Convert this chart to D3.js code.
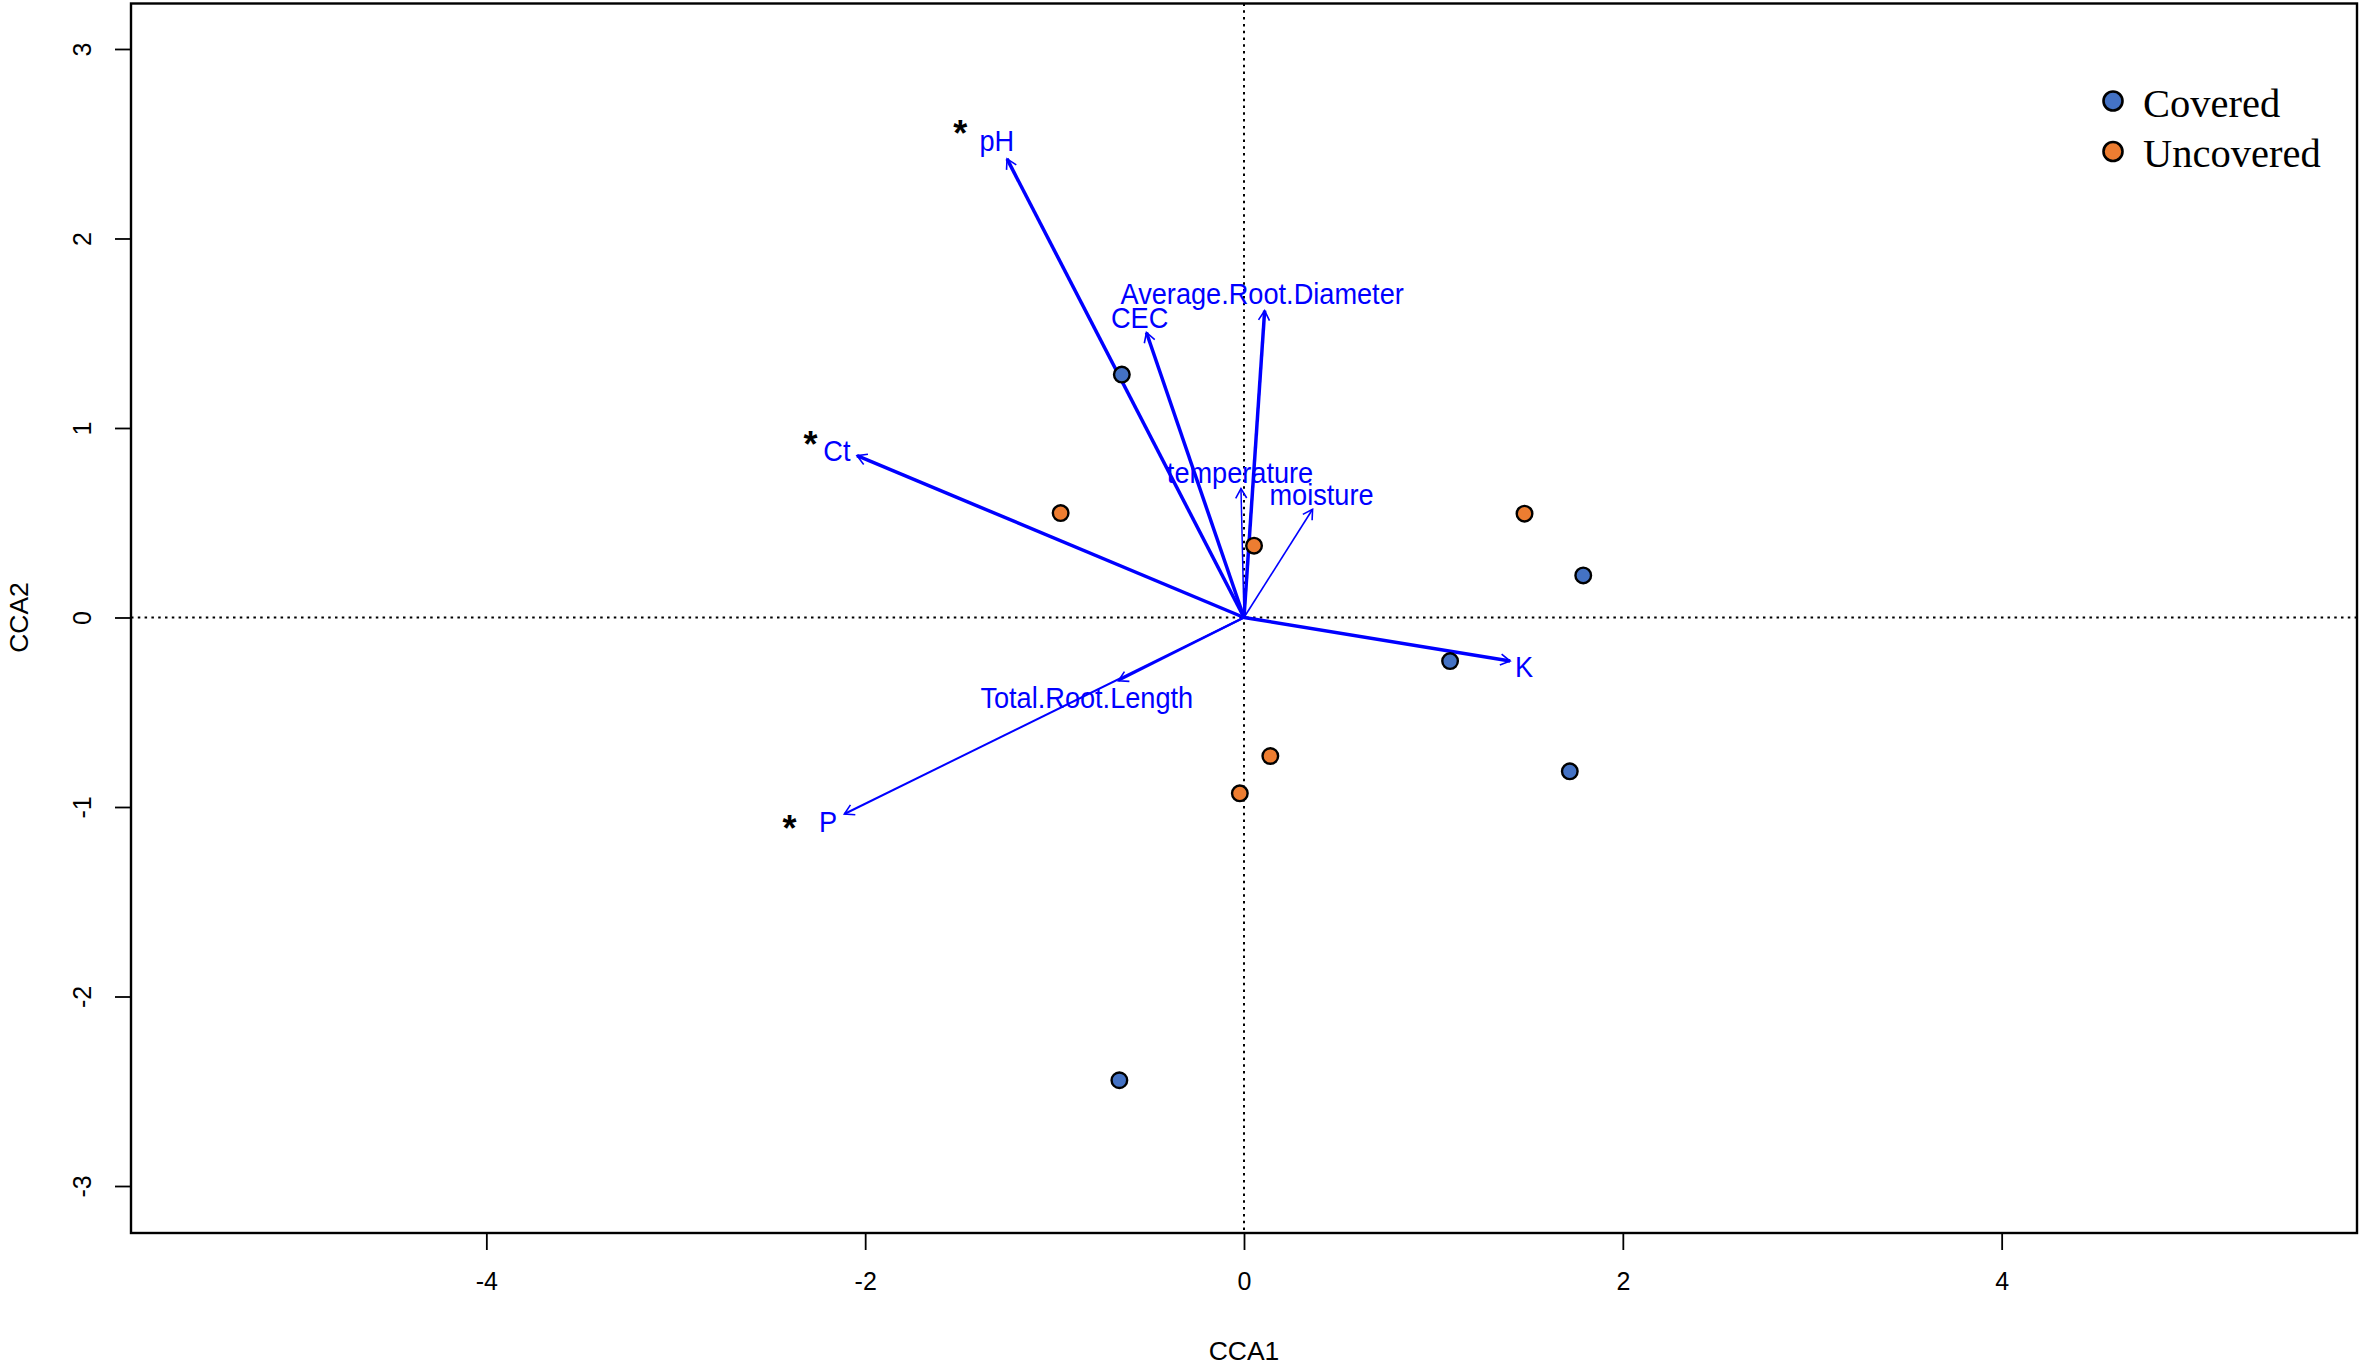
<!DOCTYPE html>
<html>
<head>
<meta charset="utf-8">
<script src="https://cdn.jsdelivr.net/npm/d3@7"></script>
<style>
html,body{margin:0;padding:0;background:#fff;}
svg{display:block;}
</style>
</head>
<body>
<svg id="chart" width="2362" height="1365"></svg>
<script>
// ---------- data ----------
const siteGroups = ["Covered","Covered","Covered","Covered","Covered",
                    "Uncovered","Uncovered","Uncovered","Uncovered","Uncovered"];
const siteCCA1 = [-0.645, 1.791, 1.088, 1.720, -0.658, -0.968, 0.053, 1.481, 0.139, -0.022];
const siteCCA2 = [ 1.282, 0.222, -0.230, -0.812, -2.442, 0.551, 0.379, 0.548, -0.731, -0.928];

const envNames = ["pH","Average.Root.Diameter","CEC","Ct","temperature","moisture","K","Total.Root.Length","P"];
const envCCA1  = [-1.251, 0.109, -0.515, -2.043, -0.016, 0.362, 1.405, -0.663, -2.110];
const envCCA2  = [ 2.420, 1.619,  1.504,  0.854,  0.680, 0.571, -0.230, -0.334, -1.037];
const envLabelCCA1 = [-1.305, 0.096, -0.551, -2.149, -0.021, 0.409, 1.478, -0.830, -2.196];
const envLabelCCA2 = [ 2.515, 1.709,  1.581,  0.882,  0.767, 0.649, -0.256, -0.421, -1.078];

const signifNames = ["pH","Ct","P"];
const signifCCA1 = [-1.498, -2.288, -2.400];
const signifCCA2 = [ 2.575,  0.935, -1.096];

const xTicks = [-4,-2,0,2,4];
const yTicks = [-3,-2,-1,0,1,2,3];
const legendGroups = ["Covered","Uncovered"];

// ---------- styles ----------
const groupColor = {"Covered":"#4472C4","Uncovered":"#ED7D31"};
const arrowWidth = {"pH":3.5,"Average.Root.Diameter":3.5,"CEC":3.5,"Ct":3.5,"K":3.5,
                    "temperature":1.5,"moisture":1.6,"Total.Root.Length":2.2,"P":2};
const blue = "#0000FF";
const sans = "Liberation Sans, Arial, sans-serif";

// ---------- layout ----------
const pLeft = 131, pRight = 2357, pTop = 3.5, pBottom = 1233;
const x = d3.scaleLinear().domain([-5.876, 5.876]).range([pLeft, pRight]);
const y = d3.scaleLinear().domain([-3.248, 3.24]).range([pBottom, pTop]);

const svg = d3.select("#chart");
const fmt = d => d < 0 ? "-" + Math.abs(d) : String(d);

// axes
const xAxis = svg.append("g").attr("transform", `translate(0,${pBottom})`)
  .call(d3.axisBottom(x).tickValues(xTicks).tickSize(17).tickFormat(fmt));
xAxis.select(".domain").remove();
xAxis.selectAll(".tick line").attr("stroke","#000").attr("stroke-width",1.8);
xAxis.selectAll(".tick text").attr("y", 48).attr("dy","0.36em")
  .attr("font-family",sans).attr("font-size",25).attr("fill","#000");

const yAxis = svg.append("g").attr("transform", `translate(${pLeft},0)`)
  .call(d3.axisLeft(y).tickValues(yTicks).tickSize(16).tickFormat(fmt));
yAxis.select(".domain").remove();
yAxis.selectAll(".tick line").attr("stroke","#000").attr("stroke-width",1.8);
yAxis.selectAll(".tick text")
  .attr("x", null).attr("dy","0.36em")
  .attr("transform","translate(-49,0) rotate(-90)")
  .attr("text-anchor","middle")
  .attr("font-family",sans).attr("font-size",25).attr("fill","#000");

// axis titles
svg.append("text").attr("x", x(0)).attr("y", 1350).attr("dy","0.36em")
  .attr("text-anchor","middle").attr("font-family",sans)
  .attr("font-size",26.5).text("CCA1");
svg.append("text").attr("transform", `translate(18,${y(0)}) rotate(-90)`).attr("dy","0.36em")
  .attr("text-anchor","middle").attr("font-family",sans)
  .attr("font-size",26.5).text("CCA2");

// reference dotted lines
svg.append("line").attr("x1", pLeft).attr("x2", pRight).attr("y1", y(0)).attr("y2", y(0))
  .attr("stroke","#000").attr("stroke-width",2).attr("stroke-dasharray","2.5,4.3");
svg.append("line").attr("x1", x(0)).attr("x2", x(0)).attr("y1", pTop).attr("y2", pBottom)
  .attr("stroke","#000").attr("stroke-width",2).attr("stroke-dasharray","2.5,4.3");

// arrows
const envData = envNames.map((n,i)=>({name:n, ax:envCCA1[i], ay:envCCA2[i], lx:envLabelCCA1[i], ly:envLabelCCA2[i]}));
const gArr = svg.append("g");
envData.forEach(d=>{
  const x0 = x(0), y0 = y(0), x1 = x(d.ax), y1 = y(d.ay);
  const w = arrowWidth[d.name];
  gArr.append("line").attr("x1",x0).attr("y1",y0).attr("x2",x1).attr("y2",y1)
    .attr("stroke",blue).attr("stroke-width",w).attr("stroke-linecap","butt");
  const ang = Math.atan2(y1-y0, x1-x0);
  const L = 11, a = Math.PI/6;
  const p1 = [x1 - L*Math.cos(ang - a), y1 - L*Math.sin(ang - a)];
  const p2 = [x1 - L*Math.cos(ang + a), y1 - L*Math.sin(ang + a)];
  gArr.append("path").attr("d", `M${p1[0]},${p1[1]}L${x1},${y1}L${p2[0]},${p2[1]}`)
    .attr("fill","none").attr("stroke",blue).attr("stroke-width",1.6);
  gArr.append("text")
    .attr("transform", `translate(${x(d.lx)},${y(d.ly)}) scale(0.905,1)`)
    .attr("dy","0.35em")
    .attr("text-anchor","middle").attr("font-family",sans)
    .attr("font-size",30).attr("fill",blue).text(d.name);
});

// significance asterisks
signifNames.forEach((n,i)=>{
  svg.append("text").attr("x", x(signifCCA1[i])).attr("y", y(signifCCA2[i])).attr("dy","0.45em")
    .attr("text-anchor","middle").attr("font-family",sans).attr("font-weight","bold")
    .attr("font-size",36).attr("fill","#000").text("*");
});

// sites
const sites = siteGroups.map((g,i)=>({g, cx:siteCCA1[i], cy:siteCCA2[i]}));
svg.append("g").selectAll("circle").data(sites).join("circle")
  .attr("cx", d=>x(d.cx)).attr("cy", d=>y(d.cy)).attr("r", 7.8)
  .attr("fill", d=>groupColor[d.g]).attr("stroke","#000").attr("stroke-width",2.4);

// box
svg.append("rect").attr("x", pLeft).attr("y", pTop).attr("width", pRight-pLeft).attr("height", pBottom-pTop)
  .attr("fill","none").attr("stroke","#000").attr("stroke-width",2.4);

// legend
const lg = svg.append("g");
legendGroups.forEach((g,i)=>{
  const cy = 101 + i*50.5;
  lg.append("circle").attr("cx",2113).attr("cy",cy).attr("r",9.5)
    .attr("fill",groupColor[g]).attr("stroke","#000").attr("stroke-width",2.6);
  lg.append("text").attr("x",2143).attr("y",cy + 15.5)
    .attr("font-family","Liberation Serif, Times New Roman, serif").attr("font-size",40.5)
    .attr("fill","#000").text(g);
});
</script>
</body>
</html>
